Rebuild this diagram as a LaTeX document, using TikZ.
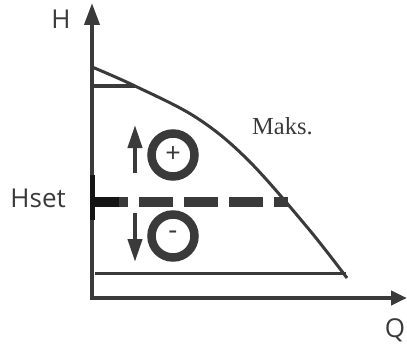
\documentclass[tikz,border=0pt]{standalone}
\usepackage{fontspec}
\setmainfont{Open Sans}
\newfontfamily\maksfont{Liberation Serif}
\usetikzlibrary{arrows.meta}
\definecolor{ink}{HTML}{3A3A3A}
\definecolor{inkdark}{HTML}{151515}
\tikzset{
  axisline/.style={ink, line width=4pt},
  thinline/.style={ink, line width=3pt},
  ring/.style={circle, draw=ink, line width=8.5pt, minimum size=43pt, inner sep=0pt},
  smallarrow/.style={ink, line width=4pt, -{Triangle[length=23pt,width=14pt]}},
  axlabel/.style={ink, font=\fontsize{26}{28}\selectfont, inner sep=0pt},
}
\begin{document}
\begin{tikzpicture}[x=1pt,y=-1pt]
\useasboundingbox (0,0) rectangle (407,345);
% axes
\coordinate (O) at (92,299);
\coordinate (ytip) at (92,3);
\coordinate (xtip) at (407,298);
\draw[axisline, -{Triangle[length=22pt,width=15pt]}] (O) -- (ytip);
\draw[axisline, -{Triangle[length=16pt,width=14pt]}] (90,298) -- (xtip);
\node[axlabel] (H) at (61,19) {H};
\node[axlabel] (Q) at (395,330) {Q};
% pump curve
\coordinate (c0) at (92,67);
\coordinate (c1) at (135,86);
\coordinate (cend) at (347,278);
\coordinate (bend) at (346,273);
\draw[thinline, line join=round] plot[smooth, tension=0.6] coordinates {(c0) (c1) (197,118) (248,160) (307,227) (cend)};
\draw[thinline] (92,86) -- (c1);
\draw[thinline] (95,273) -- (bend);
\node[ink, font=\maksfont\fontsize{24.5}{26}\selectfont, anchor=base west, inner sep=0pt] (maks) at (252,134) {Maks.};
% set point
\coordinate (dstart) at (94,202);
\coordinate (dend) at (288,202);
\draw[ink, line width=10pt, dash pattern=on 34pt off 11pt] (dstart) -- (dend);
\draw[inkdark, line width=10pt] (92,202) -- (119,202);
\draw[inkdark, line width=5pt] (92.5,175) -- (92.5,220);
\node[axlabel, anchor=east] (hset) at (66,198) {Hset};
% plus / minus
\node[ring] (plus) at (173,155) {};
\node[ink, font=\fontsize{27}{28}\selectfont, inner sep=0pt] at ([yshift=1pt]plus.center) {+};
\node[ring] (minus) at (173,236) {};
\node[ink, font=\fontsize{28}{30}\selectfont, inner sep=0pt] at ([yshift=1pt]minus.center) {-};
\coordinate (u0) at (135,173);
\coordinate (u1) at (135,125);
\coordinate (d0) at (135,213);
\coordinate (d1) at (135,262);
\draw[smallarrow] (u0) -- (u1);
\draw[smallarrow] (d0) -- (d1);
\end{tikzpicture}
\end{document}
